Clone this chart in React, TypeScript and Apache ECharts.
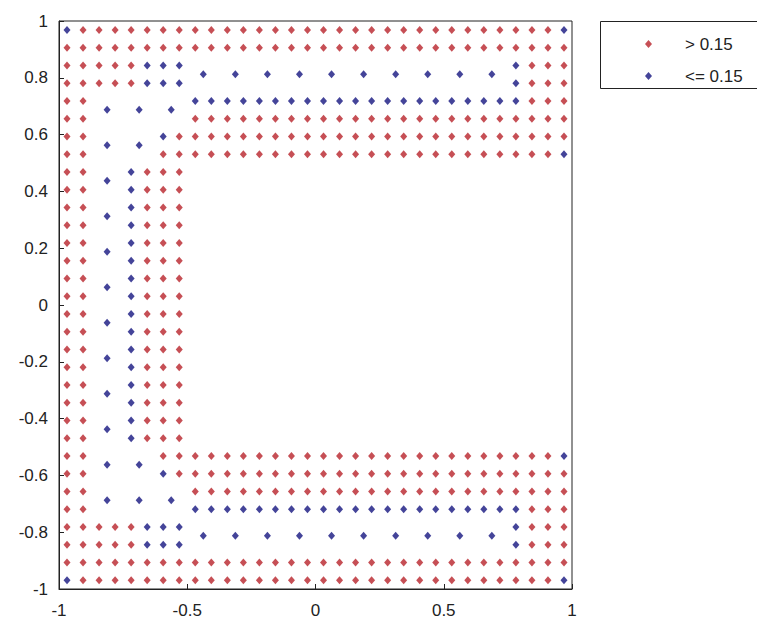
import React, { useEffect, useRef } from "react";
import * as echarts from "echarts";

// Cell centres of the fine (1/16) and coarse (1/8) mesh cells
const FINE_CENTERS = [
  -0.96875, -0.90625, -0.84375, -0.78125, -0.71875, -0.65625, -0.59375, -0.53125,
  -0.46875, -0.40625, -0.34375, -0.28125, -0.21875, -0.15625, -0.09375, -0.03125,
  0.03125, 0.09375, 0.15625, 0.21875, 0.28125, 0.34375, 0.40625, 0.46875,
  0.53125, 0.59375, 0.65625, 0.71875, 0.78125, 0.84375, 0.90625, 0.96875,
];
const COARSE_CENTERS = [
  -0.9375, -0.8125, -0.6875, -0.5625, -0.4375, -0.3125, -0.1875, -0.0625,
  0.0625, 0.1875, 0.3125, 0.4375, 0.5625, 0.6875, 0.8125, 0.9375,
];

// Fine cells, top row first; r = value > 0.15, b = value <= 0.15, . = no point
const FINE_ROWS = [
  "brrrrrrrrrrrrrrrrrrrrrrrrrrrrrrb",
  "rrrrrrrrrrrrrrrrrrrrrrrrrrrrrrrr",
  "rrrrrbbb....................brrr",
  "rrrrrbbb....................brrr",
  "rr......bbbbbbbbbbbbbbbbbbbbbrrr",
  "rr......rrrrrrrrrrrrrrrrrrrrrrrr",
  "rr....brrrrrrrrrrrrrrrrrrrrrrrrr",
  "rr....rrrrrrrrrrrrrrrrrrrrrrrrrb",
  "rr..brrr........................",
  "rr..brrr........................",
  "rr..brrr........................",
  "rr..brrr........................",
  "rr..brrr........................",
  "rr..brrr........................",
  "rr..brrr........................",
  "rr..brrr........................",
  "rr..brrr........................",
  "rr..brrr........................",
  "rr..brrr........................",
  "rr..brrr........................",
  "rr..brrr........................",
  "rr..brrr........................",
  "rr..brrr........................",
  "rr..brrr........................",
  "rr....rrrrrrrrrrrrrrrrrrrrrrrrrb",
  "rr....brrrrrrrrrrrrrrrrrrrrrrrrr",
  "rr......rrrrrrrrrrrrrrrrrrrrrrrr",
  "rr......bbbbbbbbbbbbbbbbbbbbbrrr",
  "rrrrrbbb....................brrr",
  "rrrrrbbb....................brrr",
  "rrrrrrrrrrrrrrrrrrrrrrrrrrrrrrrr",
  "brrrrrrrrrrrrrrrrrrrrrrrrrrrrrrb",
];

// Coarse cells, top row first
const COARSE_ROWS = [
  "................",
  "....bbbbbbbbbb..",
  ".bbb............",
  ".bb.............",
  ".b..............",
  ".b..............",
  ".b..............",
  ".b..............",
  ".b..............",
  ".b..............",
  ".b..............",
  ".b..............",
  ".bb.............",
  ".bbb............",
  "....bbbbbbbbbb..",
  "................",
];

const SERIES_NAMES = ["> 0.15", "<= 0.15"];
const X_TICKS = [-1, -0.5, 0, 0.5, 1];
const Y_TICKS = [-1, -0.8, -0.6, -0.4, -0.2, 0, 0.2, 0.4, 0.6, 0.8, 1];

function collect(rows: string[], centers: number[], ch: string) {
  const out: number[][] = [];
  const n = centers.length;
  rows.forEach((row, k) => {
    const y = centers[n - 1 - k];
    for (let i = 0; i < row.length; i++) {
      if (row[i] === ch) out.push([centers[i], y]);
    }
  });
  return out;
}

const FONT = "'Liberation Sans', Arial, sans-serif";
const RED = "#b8232b";
const BLUE = "#15157f";

export default function App() {
  const ref = useRef<HTMLDivElement>(null);
  useEffect(() => {
    if (!ref.current) return;
    const chart = echarts.init(ref.current, null, { renderer: "svg" });
    const red = [
      ...collect(FINE_ROWS, FINE_CENTERS, "r"),
      ...collect(COARSE_ROWS, COARSE_CENTERS, "r"),
    ];
    const blue = [
      ...collect(FINE_ROWS, FINE_CENTERS, "b"),
      ...collect(COARSE_ROWS, COARSE_CENTERS, "b"),
    ];
    const fmt = (v: number) => String(Math.round(v * 10) / 10);
    chart.setOption({
      animation: false,
      backgroundColor: "#ffffff",
      grid: {
        left: 59,
        top: 21,
        width: 513,
        height: 568,
        show: true,
        borderColor: "#222",
        borderWidth: 1,
        backgroundColor: "transparent",
      },
      xAxis: {
        type: "value",
        min: X_TICKS[0],
        max: X_TICKS[X_TICKS.length - 1],
        interval: 0.5,
        splitLine: { show: false },
        axisLine: { show: true, onZero: false, lineStyle: { color: "#222", width: 1 } },
        axisTick: { show: true, inside: true, length: 5, lineStyle: { color: "#222" } },
        axisLabel: { margin: 13, fontSize: 17, color: "#222", fontFamily: FONT, formatter: fmt },
      },
      yAxis: {
        type: "value",
        min: Y_TICKS[0],
        max: Y_TICKS[Y_TICKS.length - 1],
        interval: 0.2,
        splitLine: { show: false },
        axisLine: { show: true, onZero: false, lineStyle: { color: "#222", width: 1 } },
        axisTick: { show: true, inside: true, length: 5, lineStyle: { color: "#222" } },
        axisLabel: { margin: 11, fontSize: 17, color: "#222", fontFamily: FONT, formatter: fmt },
      },
      legend: {
        show: true,
        orient: "vertical",
        left: 640,
        top: 30,
        itemWidth: 7,
        itemHeight: 8,
        itemGap: 14,
        icon: "diamond",
        selectedMode: false,
        data: SERIES_NAMES,
        textStyle: {
          fontSize: 17,
          color: "#222",
          fontFamily: FONT,
          lineHeight: 18,
          padding: [0, 0, 0, 28],
        },
      },
      graphic: [
        {
          type: "rect",
          shape: { x: 600.5, y: 21.5, width: 200, height: 67 },
          style: { fill: "none", stroke: "#222", lineWidth: 1 },
        },
      ],
      series: [
        {
          name: SERIES_NAMES[0],
          type: "scatter",
          symbol: "diamond",
          symbolSize: [7, 8],
          itemStyle: { color: RED },
          data: red,
        },
        {
          name: SERIES_NAMES[1],
          type: "scatter",
          symbol: "diamond",
          symbolSize: [7, 8],
          itemStyle: { color: BLUE },
          data: blue,
        },
      ],
    });
    return () => chart.dispose();
  }, []);
  return (
    <div
      ref={ref}
      style={{ position: "absolute", left: 0, top: 0, width: 757, height: 619, background: "#fff" }}
    />
  );
}
